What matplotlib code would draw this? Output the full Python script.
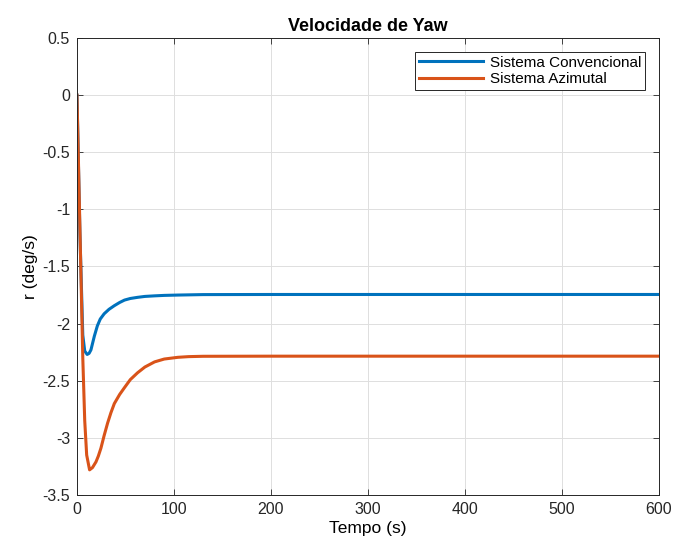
import matplotlib
matplotlib.use('Agg')
import matplotlib.pyplot as plt
from matplotlib.ticker import FormatStrFormatter

plt.rcParams['font.family'] = ['Liberation Sans', 'DejaVu Sans']
plt.rcParams['axes.unicode_minus'] = False

# values
t_conv = [0, 3, 6, 8, 10.5, 12.5, 14.4, 17.9, 21, 24, 28, 33, 38.5, 44, 49, 55, 62.5, 70, 80, 90, 104,
          130, 200, 300, 400, 500, 600]
r_conv = [0, -1.2, -2.1, -2.24, -2.27, -2.26, -2.23, -2.11, -2.02, -1.96, -1.914, -1.875, -1.843, -1.815,
          -1.794, -1.78, -1.77, -1.762, -1.757, -1.753, -1.75, -1.746, -1.745, -1.745, -1.745, -1.745, -1.745]

t_azim = [0, 3, 6, 8, 10, 13, 16, 19.6, 22, 24.7, 28, 31.6, 35, 38.5, 44, 49, 55, 62.5, 70, 80, 90, 104,
          115, 130, 200, 300, 400, 500, 600]
r_azim = [0, -1.15, -2.3, -2.85, -3.15, -3.28, -3.26, -3.21, -3.16, -3.09, -2.98, -2.87, -2.78, -2.70,
          -2.62, -2.56, -2.49, -2.43, -2.38, -2.335, -2.31, -2.295, -2.289, -2.286, -2.285, -2.285, -2.285,
          -2.285, -2.285]

labels = ['Sistema Convencional', 'Sistema Azimutal']

fig = plt.figure(figsize=(6.74, 5.53), dpi=100)
ax = fig.add_axes([0.1142, 0.1049, 0.8635, 0.8264])

ax.plot(t_conv, r_conv, color='#0072BD', lw=2.2, label=labels[0])
ax.plot(t_azim, r_azim, color='#D95319', lw=2.2, label=labels[1])

ax.set_xlim(0, 600)
ax.set_ylim(-3.5, 0.5)
ax.set_xticks(range(0, 601, 100))
ax.set_yticks([-3.5, -3, -2.5, -2, -1.5, -1, -0.5, 0, 0.5])
ax.yaxis.set_major_formatter(FormatStrFormatter('%g'))
ax.tick_params(direction='in', labelsize=11.5, top=True, right=True, length=4, width=0.6,
               colors='#262626', pad=5)
ax.grid(True, color='#dedede', lw=0.7)
for s in ax.spines.values():
    s.set_color('#262626')
    s.set_linewidth(0.7)

ax.set_title('Velocidade de Yaw', fontsize=13, fontweight='bold', pad=5)
ax.set_xlabel('Tempo (s)', fontsize=12.5, labelpad=3)
ax.set_ylabel('r (deg/s)', fontsize=12.5, labelpad=3)

leg = ax.legend(loc='upper right', fontsize=11, fancybox=False, framealpha=1,
                edgecolor='#262626', borderaxespad=0.9, handlelength=4.2,
                borderpad=0.25, labelspacing=0.15, handletextpad=0.45)
leg.get_frame().set_linewidth(0.7)

fig.savefig('out.png', dpi=100)
